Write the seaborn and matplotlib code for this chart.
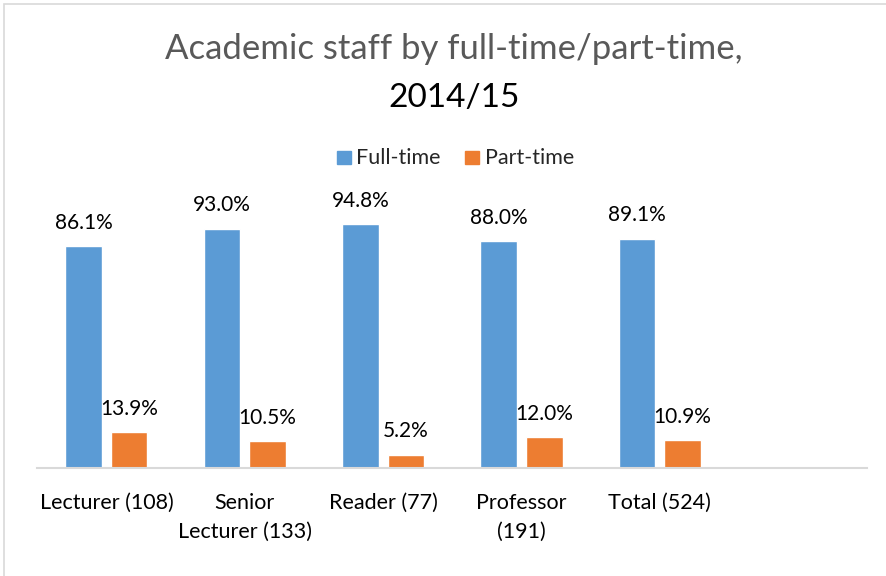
import pandas as pd
import numpy as np
import matplotlib
matplotlib.use('Agg')
import matplotlib.pyplot as plt
import seaborn as sns
from matplotlib.patches import Rectangle

roles = ['Lecturer (108)', 'Senior\nLecturer (133)', 'Reader (77)', 'Professor\n(191)', 'Total (524)']
full_time = [86.1, 93.0, 94.8, 88.0, 89.1]
part_time = [13.9, 10.5, 5.2, 12.0, 10.9]
series = ['Full-time', 'Part-time']
colors = ['#5B9BD5', '#ED7D31']

df = pd.DataFrame({
    'role': roles * 2,
    'pct': full_time + part_time,
    'type': [series[0]] * len(roles) + [series[1]] * len(roles),
})

sns.set_style('white')
plt.rcParams['font.family'] = ['Lato', 'DejaVu Sans']

fig = plt.figure(figsize=(8.86, 5.76), dpi=100)
ax = fig.add_axes([0.042, 0.1875, 0.937, 0.447])

sns.barplot(data=df, x='role', y='pct', hue='type', order=roles, hue_order=series,
            palette=colors, width=0.66, gap=0.2, saturation=1, ax=ax, legend=False)

ax.set_xlim(-0.5, 5.5)
ax.set_ylim(0, 100)
for c in ax.containers:
    ax.bar_label(c, fmt='%.1f%%', padding=9.5, fontsize=15, color='black')

ax.set_xlabel('')
ax.set_ylabel('')
ax.set_yticks([])
ax.tick_params(axis='x', length=0, pad=18, labelsize=15.5, labelcolor='black')
for t in ax.get_xticklabels():
    t.set_linespacing(1.55)
for s in ['top', 'left', 'right']:
    ax.spines[s].set_visible(False)
ax.spines['bottom'].set_color('#d9d9d9')
ax.spines['bottom'].set_linewidth(1.5)

fig.text(0.512, 0.915, 'Academic staff by full-time/part-time,', ha='center', va='center',
         fontsize=25, color='#595959')
fig.text(0.512, 0.83, '2014/15', ha='center', va='center', fontsize=24, color='black')

# legend
fig.patches.append(Rectangle((337 / 886, 1 - 164 / 576), 14 / 886, 13 / 576,
                             transform=fig.transFigure, color=colors[0]))
fig.text(356 / 886, 1 - 158 / 576, 'Full-time', va='center', fontsize=15.5)
fig.patches.append(Rectangle((465 / 886, 1 - 164 / 576), 14 / 886, 13 / 576,
                             transform=fig.transFigure, color=colors[1]))
fig.text(485 / 886, 1 - 158 / 576, 'Part-time', va='center', fontsize=15.5)

# chart border
fig.patches.append(Rectangle((4 / 886, -0.1), 1.2, 1.1 - 4 / 576, transform=fig.transFigure,
                             fill=False, edgecolor='#d9d9d9', linewidth=1.2))

fig.savefig('out.png', dpi=100)
